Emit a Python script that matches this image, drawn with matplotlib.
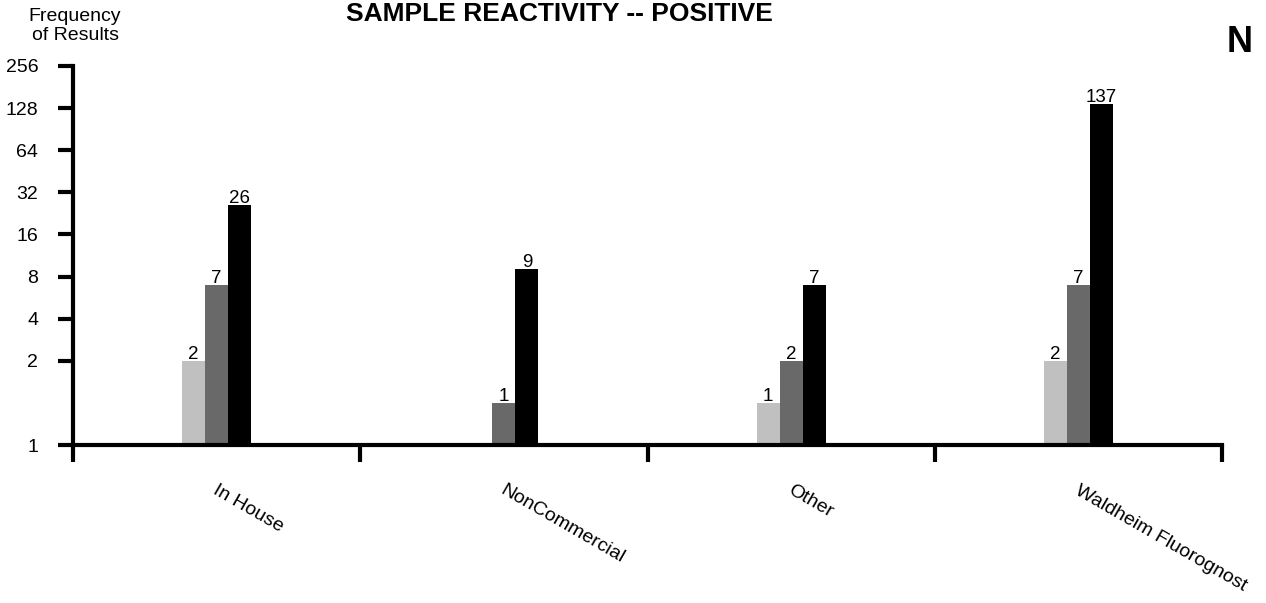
import matplotlib
matplotlib.use("Agg")
import matplotlib.pyplot as plt
import numpy as np

categories = ["In House", "NonCommercial", "Other", "Waldheim Fluorognost"]
series_light = [2, 0, 1, 2]
series_dark = [7, 1, 2, 7]
series_black = [26, 9, 7, 137]
ytick_values = [0.5, 2, 4, 8, 16, 32, 64, 128, 256]
ytick_labels = ["1", "2", "4", "8", "16", "32", "64", "128", "256"]

plt.rcParams['font.family'] = ['Liberation Sans', 'DejaVu Sans']

W, H, DPI = 1266, 603, 100
fig = plt.figure(figsize=(W / DPI, H / DPI), dpi=DPI)
ax = fig.add_axes([73 / W, 1 - 445 / H, (1222 - 73) / W, (445 - 66) / H])

base = 0.5
bw = 0.08
x = np.arange(len(categories))
colors = ["#C0C0C0", "#696969", "#000000"]
for k, (vals, col) in enumerate(zip([series_light, series_dark, series_black], colors)):
    for i, v in enumerate(vals):
        if v <= 0:
            continue
        xi = x[i] + (k - 1) * bw
        ax.bar(xi, v - base, bottom=base, width=bw, color=col, linewidth=0, zorder=2)
        ax.annotate(str(v), xy=(xi, v), xytext=(0, 2), textcoords='offset pixels',
                    ha='center', va='baseline', fontsize=13.5, color='black')

ax.set_yscale('log', base=2)
ax.set_ylim(base, 256)
ax.set_xlim(-0.5, len(categories) - 0.5)
ax.set_yticks(ytick_values)
ax.set_yticklabels(ytick_labels)
ax.yaxis.set_minor_locator(matplotlib.ticker.NullLocator())
ax.set_xticks(np.arange(len(categories) + 1) - 0.5)
ax.set_xticklabels([])

for s in ['top', 'right']:
    ax.spines[s].set_visible(False)
for s in ['left', 'bottom']:
    ax.spines[s].set_linewidth(3)
    ax.spines[s].set_zorder(3)

ax.tick_params(axis='y', direction='out', length=11, width=3, pad=14, labelsize=14)
ax.tick_params(axis='x', direction='out', length=12.5, width=3)

for i, c in enumerate(categories):
    ax.annotate(c, xy=(x[i], 0), xycoords=('data', 'axes fraction'),
                xytext=(2, -37), textcoords='offset pixels',
                ha='left', va='top', rotation=-30, rotation_mode='anchor', fontsize=14)

fig.text(559.5 / W, 1 - 21 / H, "SAMPLE REACTIVITY -- POSITIVE", ha='center', va='baseline',
         fontsize=19, fontweight='bold')
fig.text(75 / W, 1 - 21 / H, "Frequency", ha='center', va='baseline', fontsize=14)
fig.text(75 / W, 1 - 40 / H, "of Results", ha='center', va='baseline', fontsize=14)
fig.text(1240 / W, 1 - 52 / H, "N", ha='center', va='baseline', fontsize=26, fontweight='bold')

fig.savefig("out.png", dpi=DPI)
